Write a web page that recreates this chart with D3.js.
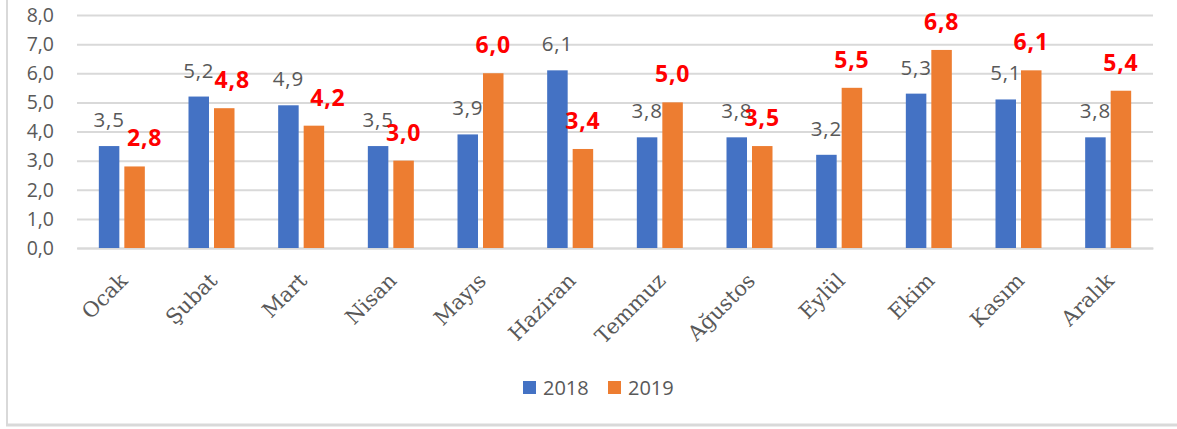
<!DOCTYPE html>
<html><head><meta charset="utf-8">
<script src="https://cdn.jsdelivr.net/npm/d3@7/dist/d3.min.js"></script>
<style>
html,body{margin:0;padding:0;background:#fff;}
svg{display:block;}
</style></head>
<body>
<svg id="chart" width="1177" height="429"></svg>
<script>
const months = ["Ocak","Şubat","Mart","Nisan","Mayıs","Haziran","Temmuz","Ağustos","Eylül","Ekim","Kasım","Aralık"];
const series = ["2018","2019"];
const values2018 = [3.5,5.2,4.9,3.5,3.9,6.1,3.8,3.8,3.2,5.3,5.1,3.8];
const values2019 = [2.8,4.8,4.2,3.0,6.0,3.4,5.0,3.5,5.5,6.8,6.1,5.4];
const yTicks = [0,1,2,3,4,5,6,7,8];

// layout / style (not data)
const colors = {"2018":"#4472C4","2019":"#ED7D31"};
const nudge2019 = {"Ocak":10,"Şubat":8,"Mart":14};

const svg = d3.select("#chart");
const W = 1177, H = 429;
const plot = {left:77, right:1153, top:15, bottom:248};

// chart border
svg.append("line").attr("x1",7).attr("x2",7).attr("y1",0).attr("y2",425)
  .attr("stroke","#d9d9d9").attr("stroke-width",2);
svg.append("line").attr("x1",6).attr("x2",W).attr("y1",425).attr("y2",425)
  .attr("stroke","#d9d9d9").attr("stroke-width",3);

const x = d3.scaleBand().domain(months).range([plot.left, plot.right]).paddingInner(0.487).paddingOuter(0.2435);
const xs = d3.scaleBand().domain(series).range([0, x.bandwidth()]).paddingInner(0.196);
const y = d3.scaleLinear().domain([0,8]).range([plot.bottom, plot.top]);

const fmt = v => d3.format(".1f")(v).replace(".", ",");

// gridlines
const yAxis = d3.axisLeft(y).tickValues(yTicks).tickSize(-(plot.right-plot.left)).tickFormat(fmt).tickPadding(23);
const gy = svg.append("g").attr("transform",`translate(${plot.left},0)`).call(yAxis);
gy.select(".domain").remove();
gy.selectAll(".tick line").attr("stroke","#d9d9d9").attr("stroke-width",2);
gy.selectAll(".tick text").attr("fill","#595959").style("font-family","'Open Sans', sans-serif").style("font-size","19.5px");

// x axis
const xAxis = d3.axisBottom(x).tickSize(0).tickPadding(0);
const gx = svg.append("g").attr("transform",`translate(0,${plot.bottom})`).call(xAxis);
gx.select(".domain").attr("stroke","#d9d9d9").attr("stroke-width",2);
gx.selectAll(".tick text")
  .attr("fill","#595959")
  .style("font-family","'DejaVu Serif', serif").style("font-size","21px")
  .attr("text-anchor","end")
  .attr("dy",null).attr("y",0)
  .attr("transform","translate(7,34) rotate(-45)");

const data = months.map((m,i)=>({m, vals:[{s:"2018",v:values2018[i]},{s:"2019",v:values2019[i]}]}));

const groups = svg.append("g").selectAll("g").data(data).join("g")
  .attr("transform",d=>`translate(${x(d.m)},0)`);
groups.selectAll("rect").data(d=>d.vals).join("rect")
  .attr("x",d=>xs(d.s)).attr("width",xs.bandwidth())
  .attr("y",d=>y(d.v)).attr("height",d=>y(0)-y(d.v))
  .attr("fill",d=>colors[d.s]);

// labels 2018
svg.append("g").selectAll("text").data(data).join("text")
  .attr("x",d=>x(d.m)+xs("2018")+xs.bandwidth()/2)
  .attr("y",d=>y(d.vals[0].v)-19)
  .attr("text-anchor","middle")
  .attr("fill","#595959")
  .style("font-family","'Open Sans', sans-serif").style("font-size","20.5px").style("letter-spacing","0.8px")
  .text(d=>fmt(d.vals[0].v));
// labels 2019
svg.append("g").selectAll("text").data(data).join("text")
  .attr("x",d=>x(d.m)+xs("2019")+xs.bandwidth()/2+(nudge2019[d.m]||0))
  .attr("y",d=>y(d.vals[1].v)-20)
  .attr("text-anchor","middle")
  .attr("fill","#FF0000")
  .style("font-family","'Open Sans', sans-serif").style("font-size","23px").style("font-weight","bold").style("letter-spacing","0.8px")
  .text(d=>fmt(d.vals[1].v));

// legend
const legend = svg.append("g");
const lx = [523,608];
series.forEach((s,i)=>{
  legend.append("rect").attr("x",lx[i]).attr("y",381).attr("width",13).attr("height",13).attr("fill",colors[s]);
  legend.append("text").attr("x",lx[i]+20).attr("y",395).attr("fill","#595959")
    .style("font-family","'Open Sans', sans-serif").style("font-size","20px").text(s);
});
</script>
</body></html>
